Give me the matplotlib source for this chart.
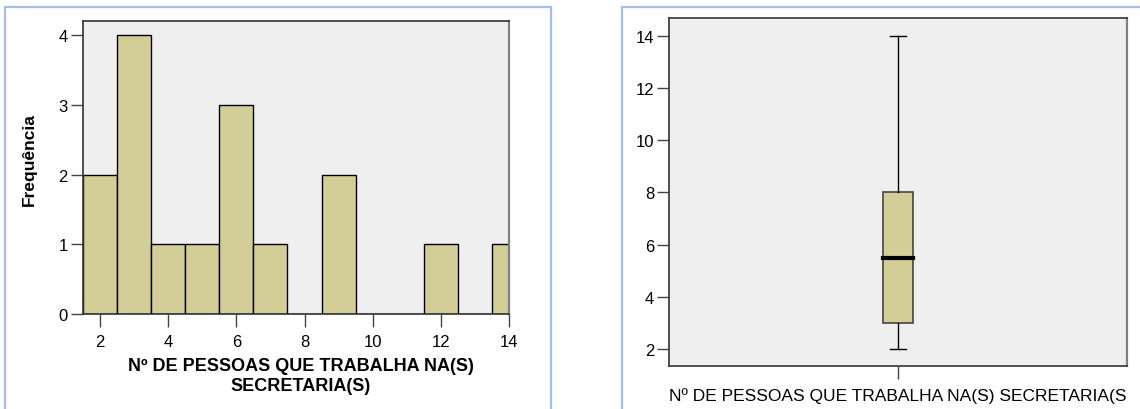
import numpy as np
import matplotlib
matplotlib.use("Agg")
import matplotlib.pyplot as plt
from matplotlib.patches import Rectangle

plt.rcParams['font.family'] = ['Liberation Sans', 'DejaVu Sans']

# Frequency table of the number of people working in the secretariat(s)
values = [2, 3, 4, 5, 6, 7, 8, 9, 10, 11, 12, 13, 14]
counts = [2, 4, 1, 1, 3, 1, 0, 2, 0, 0, 1, 0, 1]
hist_xticks = [2, 4, 6, 8, 10, 12, 14]
hist_yticks = [0, 1, 2, 3, 4]
box_yticks = [2, 4, 6, 8, 10, 12, 14]

ylabel_text = "Frequência"
xlabel_lines = ["Nº DE PESSOAS QUE TRABALHA NA(S)", "SECRETARIA(S)"]
box_label = "Nº DE PESSOAS QUE TRABALHA NA(S) SECRETARIA(S"

W, H = 1140, 410
fig = plt.figure(figsize=(W / 100, H / 100), dpi=100)


def fx(px):
    return px / W


def fy(py):
    return 1 - py / H


def axes_rect(left, top, right, bottom):
    return [fx(left), fy(bottom), (right - left) / W, (bottom - top) / H]


BAR_COLOR = "#d3ce97"
BG_COLOR = "#efefef"
BORDER_COLOR = "#a3c0e4"
FS = 12

# panel frames
fig.add_artist(Rectangle((fx(5), fy(430)), fx(551) - fx(5), fy(8) - fy(430),
                         transform=fig.transFigure, fill=False,
                         edgecolor=BORDER_COLOR, lw=1.6))
fig.add_artist(Rectangle((fx(622), fy(430)), fx(1160) - fx(622), fy(8) - fy(430),
                         transform=fig.transFigure, fill=False,
                         edgecolor=BORDER_COLOR, lw=1.6))


def style_axes(ax):
    ax.set_facecolor(BG_COLOR)
    for side in ("left", "bottom", "top"):
        ax.spines[side].set_color("#333333")
        ax.spines[side].set_linewidth(1.2)
    ax.spines["right"].set_color("#808080")
    ax.spines["right"].set_linewidth(1.6)
    ax.tick_params(axis="both", length=9, width=1, color="#444444",
                   labelsize=FS, labelcolor="black")
    ax.tick_params(axis="y", pad=2)


# ---- histogram ----
ax1 = fig.add_axes(axes_rect(83, 22, 509, 315.3))
style_axes(ax1)
ax1.bar(values, counts, width=1.0, color=BAR_COLOR, edgecolor="black",
        linewidth=1.0, zorder=2)
ax1.set_xlim(1.5, 14)
ax1.set_ylim(0, 4.2)
ax1.set_xticks(hist_xticks)
ax1.set_yticks(hist_yticks)
ax1.tick_params(axis="x", pad=5)

fig.text(fx(29), fy(160), ylabel_text, rotation=90, ha="center", va="center",
         fontsize=FS + 0.5, fontweight="bold")
fig.text(fx(301), fy(366.5), xlabel_lines[0], ha="center", va="center",
         fontsize=FS + 1, fontweight="bold")
fig.text(fx(301), fy(386.5), xlabel_lines[1], ha="center", va="center",
         fontsize=FS + 1, fontweight="bold")

# ---- boxplot (Tukey hinges) ----
data = np.repeat(values, counts)
srt = np.sort(data)
n = len(srt)
half = (n + 1) // 2
lower, upper = srt[:half], srt[n - half:]
q1, med, q3 = np.median(lower), np.median(srt), np.median(upper)
iqr = q3 - q1
whislo = srt[srt >= q1 - 1.5 * iqr].min()
whishi = srt[srt <= q3 + 1.5 * iqr].max()
stats = [dict(med=med, q1=q1, q3=q3, whislo=whislo, whishi=whishi, fliers=[])]

ax2 = fig.add_axes(axes_rect(669.3, 19.3, 1126.7, 367.3))
style_axes(ax2)
ax2.bxp(stats, positions=[1], widths=0.067, capwidths=0.034,
        patch_artist=True, showfliers=False,
        boxprops=dict(facecolor=BAR_COLOR, edgecolor="#444444", linewidth=1.2),
        whiskerprops=dict(color="black", linewidth=1.0),
        capprops=dict(color="black", linewidth=1.0),
        medianprops=dict(color="black", linewidth=3.0, solid_capstyle="projecting"))
ax2.set_xlim(0.5, 1.5)
ax2.set_ylim(1.34, 14.66)
ax2.set_yticks(box_yticks)
ax2.set_xticks([1])
ax2.set_xticklabels([box_label], fontsize=FS + 0.5)
ax2.tick_params(axis="x", pad=6)

fig.savefig("out.png", dpi=100)
